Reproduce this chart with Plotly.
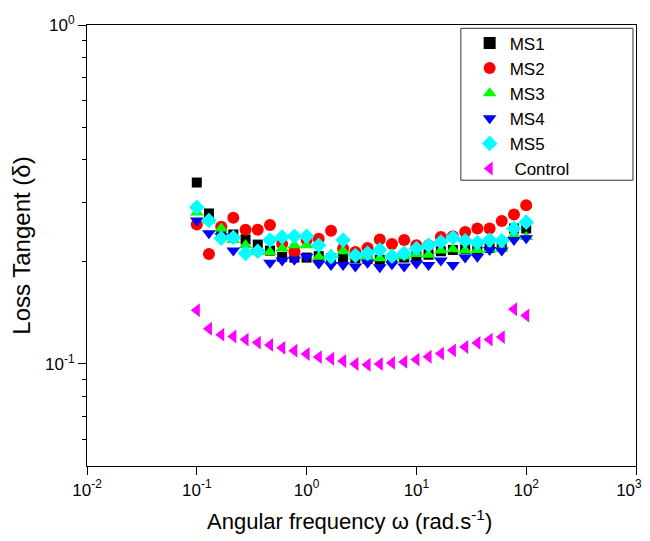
import plotly.graph_objects as go

freq = [0.1, 0.129, 0.167, 0.215, 0.278, 0.359, 0.464, 0.599, 0.774, 1.0,
        1.29, 1.67, 2.15, 2.78, 3.59, 4.64, 5.99, 7.74, 10.0, 12.9,
        16.7, 21.5, 27.8, 35.9, 46.4, 59.9, 77.4, 100.0]

ms1 = [0.343, 0.278, 0.245, 0.241, 0.233, 0.225, 0.216, 0.207, 0.206, 0.206,
       0.208, 0.205, 0.204, 0.205, 0.204, 0.203, 0.205, 0.206, 0.208, 0.210,
       0.215, 0.217, 0.218, 0.217, 0.220, 0.222, 0.251, 0.251]
ms2 = [0.258, 0.211, 0.254, 0.270, 0.249, 0.249, 0.257, 0.226, 0.215, 0.232,
       0.234, 0.247, 0.219, 0.214, 0.220, 0.233, 0.226, 0.232, 0.224, 0.224,
       0.237, 0.238, 0.245, 0.251, 0.251, 0.264, 0.276, 0.294]
ms3 = [0.280, 0.265, 0.251, 0.232, 0.224, 0.214, 0.214, 0.219, 0.224, 0.224,
       0.207, 0.210, 0.215, 0.208, 0.207, 0.205, 0.207, 0.208, 0.211, 0.210,
       0.216, 0.218, 0.216, 0.217, 0.218, 0.219, 0.240, 0.237]
ms4 = [0.265, 0.243, 0.238, 0.216, 0.210, 0.214, 0.199, 0.202, 0.203, 0.207,
       0.198, 0.196, 0.196, 0.194, 0.199, 0.193, 0.197, 0.194, 0.198, 0.196,
       0.202, 0.196, 0.206, 0.207, 0.217, 0.216, 0.232, 0.235]
ms5 = [0.290, 0.265, 0.235, 0.236, 0.212, 0.215, 0.232, 0.237, 0.238, 0.238,
       0.224, 0.207, 0.232, 0.209, 0.212, 0.217, 0.208, 0.212, 0.219, 0.224,
       0.229, 0.236, 0.231, 0.228, 0.232, 0.231, 0.251, 0.262]
control = [0.144, 0.127, 0.122, 0.1205, 0.118, 0.1156, 0.1138, 0.1116, 0.1094, 0.107,
           0.1048, 0.1036, 0.102, 0.100, 0.0995, 0.100, 0.1007, 0.1014, 0.103, 0.105,
           0.1073, 0.1097, 0.1122, 0.1154, 0.118, 0.120, 0.145, 0.139]

series_names = ["MS1", "MS2", "MS3", "MS4", "MS5", "\u00a0Control"]
series_values = [ms1, ms2, ms3, ms4, ms5, control]
colors = ["#000000", "#ff0000", "#00ff00", "#0000ff", "#00ffff", "#ff00ff"]
symbols = ["square", "circle", "triangle-up", "triangle-down", "diamond", "triangle-left"]
sizes = [10, 12, 12, 12, 12, 12]

y_tickvals = [0.1, 1]
y_ticktext = ["10<sup>-1</sup>", "10<sup>0</sup>"]
y_minor = [0.06, 0.07, 0.08, 0.09, 0.2, 0.3, 0.4, 0.5, 0.6, 0.7, 0.8, 0.9]
x_tickvals = [0.01, 0.1, 1, 10, 100, 1000]
x_ticktext = ["10<sup>-2</sup>", "10<sup>-1</sup>", "10<sup>0</sup>",
              "10<sup>1</sup>", "10<sup>2</sup>",
              "10<sup>3</sup>\u00a0\u00a0\u00a0"]
x_title = "Angular frequency \u03c9 (rad.s<sup>-1</sup>)"
y_title = "Loss Tangent (\u03b4)"

font_family = "Arial, Liberation Sans, sans-serif"

fig = go.Figure()
for name, vals, c, s, sz in zip(series_names, series_values, colors, symbols, sizes):
    fig.add_trace(go.Scatter(
        x=freq, y=vals, mode="markers", name=name,
        marker=dict(symbol=s, color=c, size=sz, line=dict(width=0)),
    ))

# page body adds an 8px offset, so the figure is drawn at (8, 8)
fig.update_layout(
    width=642, height=533,
    margin=dict(l=79, r=14, t=17, b=75, autoexpand=False),
    paper_bgcolor="white", plot_bgcolor="white",
    font=dict(family=font_family, color="black", size=17),
    showlegend=True,
    legend=dict(
        x=0.697, y=0.999, xanchor="left", yanchor="top",
        borderwidth=0, bgcolor="rgba(0,0,0,0)",
        font=dict(size=17, family=font_family),
        itemsizing="constant",
    ),
    shapes=[dict(type="rect", xref="paper", yref="paper",
                 x0=0.681, x1=0.9945, y0=0.648, y1=0.9925,
                 line=dict(color="#333333", width=1), fillcolor="rgba(0,0,0,0)",
                 layer="above")],
    annotations=[dict(text=x_title, xref="paper", yref="paper",
                      x=0.479, y=0, xanchor="center", yanchor="middle",
                      yshift=-54, showarrow=False,
                      font=dict(size=22, family=font_family, color="black"))],
)

fig.update_xaxes(
    type="log", range=[-2, 3], automargin=False,
    tickmode="array", tickvals=x_tickvals, ticktext=x_ticktext,
    ticklabeloverflow="allow",
    ticks="outside", ticklen=8, tickwidth=1.2, tickcolor="black",
    showline=True, linecolor="black", linewidth=1.2, mirror=True,
    showgrid=False, zeroline=False,
    tickfont=dict(size=17),
)
fig.update_yaxes(
    type="log", range=[-1.30103, 0], automargin=False,
    tickmode="array", tickvals=y_tickvals, ticktext=y_ticktext,
    ticklabeloverflow="allow",
    ticks="outside", ticklen=8, tickwidth=1.2, tickcolor="black",
    minor=dict(tickmode="array", tickvals=y_minor, ticks="outside",
               ticklen=4, tickwidth=1.2, tickcolor="black"),
    showline=True, linecolor="black", linewidth=1.2, mirror=True,
    showgrid=False, zeroline=False,
    tickfont=dict(size=17),
    title=dict(text=y_title, font=dict(size=24), standoff=10),
)

fig.write_html("out.html")
